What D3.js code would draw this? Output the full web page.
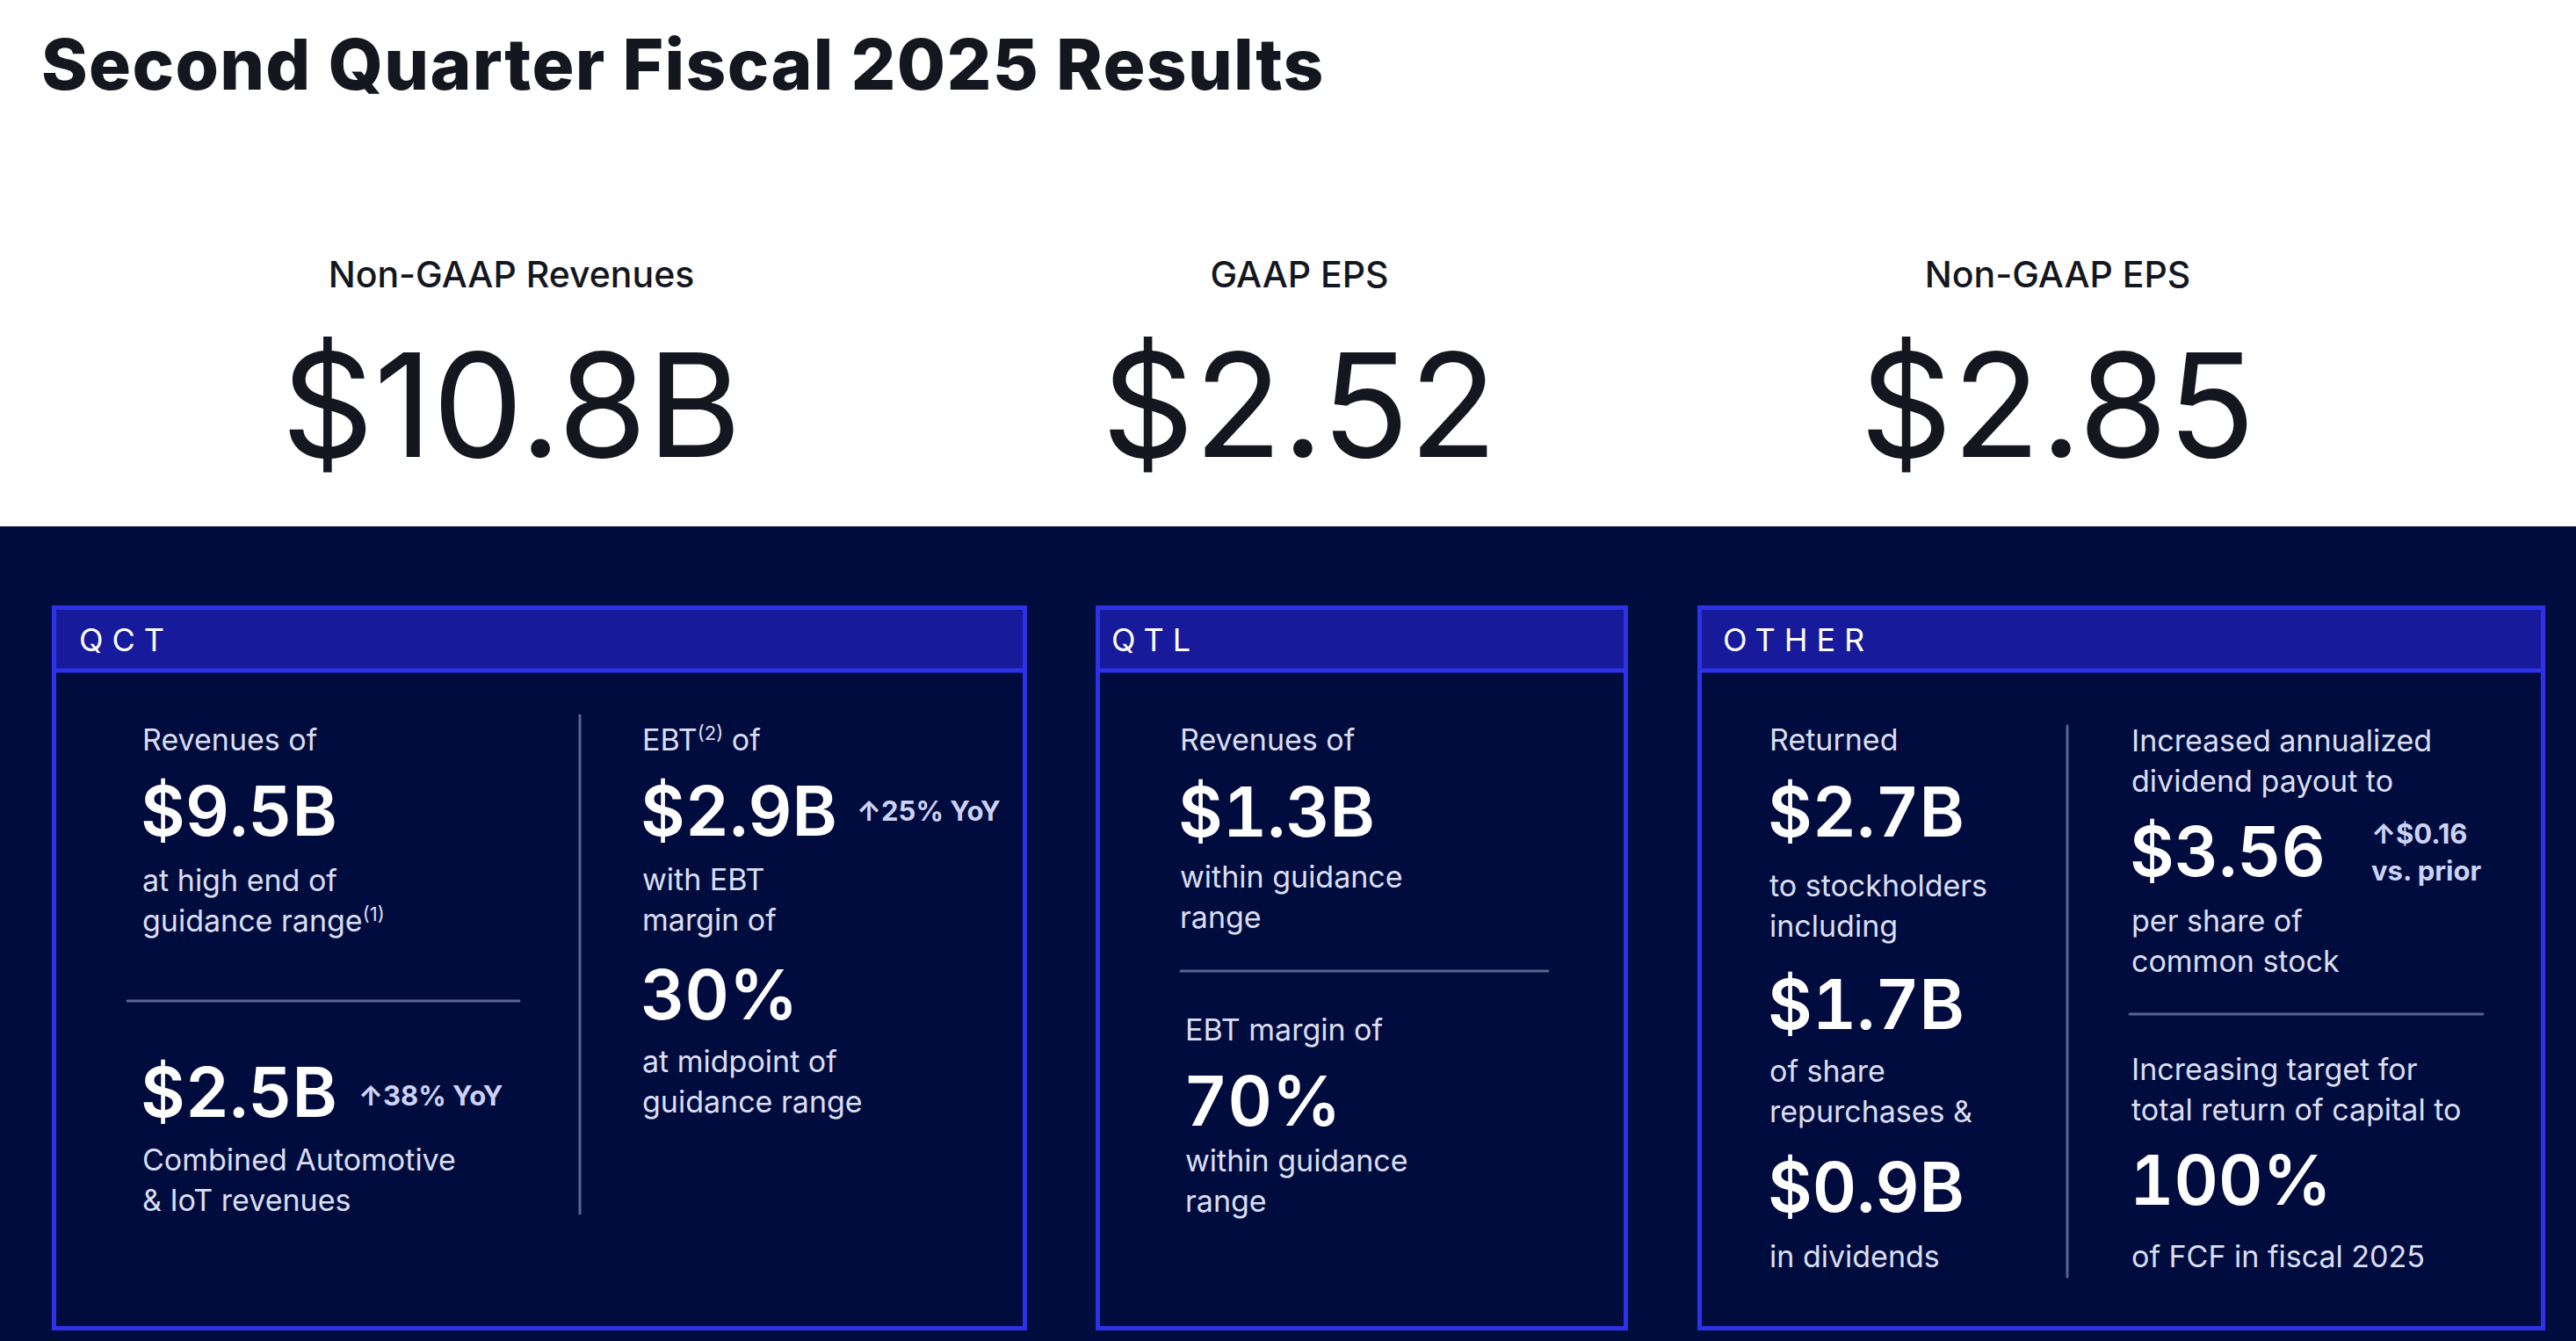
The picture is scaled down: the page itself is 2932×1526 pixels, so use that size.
<!DOCTYPE html>
<html>
<head>
<meta charset="utf-8">
<script src="https://cdn.jsdelivr.net/npm/d3@7"></script>
<style>
  html, body { margin: 0; padding: 0; background: #ffffff; }
  svg { display: block; }
</style>
</head>
<body>
<div id="results"></div>
<script>
// headline numbers
var kpi_labels = ['Non-GAAP Revenues', 'GAAP EPS', 'Non-GAAP EPS'];
var kpi_values = ['$10.8B', '$2.52', '$2.85'];

// segment panels
var segments = ['QCT', 'QTL', 'OTHER'];

// stat blocks inside the panels ("^" starts a superscript)
var block_segment = ['QCT', 'QCT', 'QCT', 'QCT', 'QTL', 'QTL', 'OTHER', 'OTHER', 'OTHER', 'OTHER', 'OTHER'];
var block_lead = [
    ['Revenues of'],
    [],
    ['EBT^(2)^ of'],
    [],
    ['Revenues of'],
    ['EBT margin of'],
    ['Returned'],
    [],
    [],
    ['Increased annualized', 'dividend payout to'],
    ['Increasing target for', 'total return of capital to']
];
var block_value = ['$9.5B', '$2.5B', '$2.9B', '30%', '$1.3B', '70%', '$2.7B', '$1.7B', '$0.9B', '$3.56', '100%'];
var block_delta = [
    [],
    ['\u219138% YoY'],
    ['\u219125% YoY'],
    [],
    [],
    [],
    [],
    [],
    [],
    ['\u2191$0.16', 'vs. prior'],
    []
];
var block_note = [
    ['at high end of', 'guidance range^(1)'],
    ['Combined Automotive', '& IoT revenues'],
    ['with EBT', 'margin of'],
    ['at midpoint of', 'guidance range'],
    ['within guidance', 'range'],
    ['within guidance', 'range'],
    ['to stockholders', 'including'],
    ['of share', 'repurchases &'],
    ['in dividends'],
    ['per share of', 'common stock'],
    ['of FCF in fiscal 2025']
];

var chart_width = 2932;
var chart_height = 1526;
var band_top = 599;
var ink = '#14171f';
var navy = '#010c3e';
var panel_fill = '#171b9b';
var panel_line = '#2c32e6';
var rule_color = '#5a6490';
var body_text = '#dadef2';
var delta_text = '#cdd3f6';
var font = 'Inter, "Noto Sans", "DejaVu Sans", sans-serif';

// layout (pixels)
var kpi_x = d3.scaleOrdinal().domain(kpi_labels).range([582, 1479, 2342]);
var panel_x = d3.scaleOrdinal().domain(segments).range([59, 1247, 1932]);
var panel_w = d3.scaleOrdinal().domain(segments).range([1110, 606, 965]);
var label_dx = d3.scaleOrdinal().domain(segments).range([31, 18, 29]);
var panel_top = 689;
var panel_h = 825;
var header_h = 74;
var line_h = 46;

// per block: x, first lead baseline, value baseline, first note baseline, delta x, first delta baseline
var block_pos = [
    [162, 854, 951, 1014, 0, 0],
    [162, 0, 1271, 1332, 408, 1258],
    [731, 854, 951, 1013, 975, 934],
    [731, 0, 1160, 1220, 0, 0],
    [1343, 854, 952, 1010, 0, 0],
    [1349, 1184, 1281, 1333, 0, 0],
    [2014, 854, 952, 1020, 0, 0],
    [2014, 0, 1171, 1231, 0, 0],
    [2014, 0, 1379, 1442, 0, 0],
    [2426, 855, 997, 1060, 2699, 960],
    [2426, 1229, 1371, 1442, 0, 0]
];
// dividers: x1, y1, x2, y2
var dividers = [
    [145, 1139, 591, 1139],
    [660, 814, 660, 1381],
    [1344, 1105, 1762, 1105],
    [2353, 826, 2353, 1453],
    [2424, 1154, 2826, 1154]
];

var svg = d3.select('#results')
    .append('svg')
    .attr('width', chart_width)
    .attr('height', chart_height);

svg.append('rect')
    .attr('width', chart_width)
    .attr('height', chart_height)
    .attr('fill', '#ffffff');

// title
svg.append('text')
    .attr('x', 47)
    .attr('y', 102)
    .attr('fill', ink)
    .style('font-family', font)
    .style('font-weight', 800)
    .style('font-size', '80px')
    .style('letter-spacing', '1.3px')
    .text('Second Quarter Fiscal 2025 Results');

// headline kpis
var kpi = svg.append('g')
    .selectAll('g')
    .data(kpi_labels)
    .enter()
    .append('g')
    .attr('transform', function (d) {
        return 'translate(' + kpi_x(d) + ',0)';
    });

kpi.append('text')
    .attr('y', 327)
    .attr('text-anchor', 'middle')
    .attr('fill', ink)
    .style('font-family', font)
    .style('font-weight', 500)
    .style('font-size', '41px')
    .text(function (d) { return d; });

kpi.append('text')
    .attr('y', 520)
    .attr('text-anchor', 'middle')
    .attr('fill', ink)
    .style('font-family', font)
    .style('font-weight', 400)
    .style('font-size', '164px')
    .text(function (d, i) { return kpi_values[i]; });

// dark band
svg.append('rect')
    .attr('y', band_top)
    .attr('width', chart_width)
    .attr('height', chart_height - band_top)
    .attr('fill', navy);

// panels
var panel = svg.append('g')
    .selectAll('g')
    .data(segments)
    .enter()
    .append('g')
    .attr('transform', function (d) {
        return 'translate(' + panel_x(d) + ',' + panel_top + ')';
    });

panel.append('rect')
    .attr('x', 2.5)
    .attr('y', 2.5)
    .attr('width', function (d) { return panel_w(d) - 5; })
    .attr('height', header_h - 2.5)
    .attr('fill', panel_fill)
    .attr('stroke', panel_line)
    .attr('stroke-width', 5);

panel.append('rect')
    .attr('x', 2.5)
    .attr('y', 2.5)
    .attr('width', function (d) { return panel_w(d) - 5; })
    .attr('height', panel_h - 5)
    .attr('fill', 'none')
    .attr('stroke', panel_line)
    .attr('stroke-width', 5);

panel.append('text')
    .attr('x', function (d) { return label_dx(d); })
    .attr('y', 52)
    .attr('fill', '#ffffff')
    .style('font-family', font)
    .style('font-weight', 400)
    .style('font-size', '36px')
    .style('letter-spacing', '10px')
    .text(function (d) { return d; });

// dividers
svg.append('g')
    .selectAll('line')
    .data(dividers)
    .enter()
    .append('line')
    .attr('x1', function (d) { return d[0]; })
    .attr('y1', function (d) { return d[1]; })
    .attr('x2', function (d) { return d[2]; })
    .attr('y2', function (d) { return d[3]; })
    .attr('stroke', rule_color)
    .attr('stroke-width', 3)
    .attr('stroke-linecap', 'round');

// writes a line, turning ^...^ into a superscript
function addLine(sel, str) {
    var parts = str.split('^');
    parts.forEach(function (p, k) {
        if (p === '') return;
        var t = sel.append('tspan').text(p);
        if (k % 2 === 1) {
            t.attr('baseline-shift', '55%')
                .style('font-size', '22px');
        }
    });
}

var block = svg.append('g')
    .selectAll('g')
    .data(block_value)
    .enter()
    .append('g')
    .attr('class', function (d, i) { return 'block ' + block_segment[i]; });

block.each(function (d, i) {
    var g = d3.select(this);
    var p = block_pos[i];

    block_lead[i].forEach(function (s, k) {
        var t = g.append('text')
            .attr('x', p[0])
            .attr('y', p[1] + k * line_h)
            .attr('fill', body_text)
            .style('font-family', font)
            .style('font-weight', 400)
            .style('font-size', '34px');
        addLine(t, s);
    });

    g.append('text')
        .attr('x', p[0] - 2)
        .attr('y', p[2])
        .attr('fill', '#ffffff')
        .style('font-family', font)
        .style('font-weight', 600)
        .style('font-size', '78px')
        .style('font-variant-numeric', 'tabular-nums')
        .text(d);

    block_delta[i].forEach(function (s, k) {
        g.append('text')
            .attr('x', p[4])
            .attr('y', p[5] + k * 42)
            .attr('fill', delta_text)
            .style('font-family', font)
            .style('font-weight', 700)
            .style('font-size', '31px')
            .text(s);
    });

    block_note[i].forEach(function (s, k) {
        var t = g.append('text')
            .attr('x', p[0])
            .attr('y', p[3] + k * line_h)
            .attr('fill', body_text)
            .style('font-family', font)
            .style('font-weight', 400)
            .style('font-size', '34px');
        addLine(t, s);
    });
});
</script>
</body>
</html>
